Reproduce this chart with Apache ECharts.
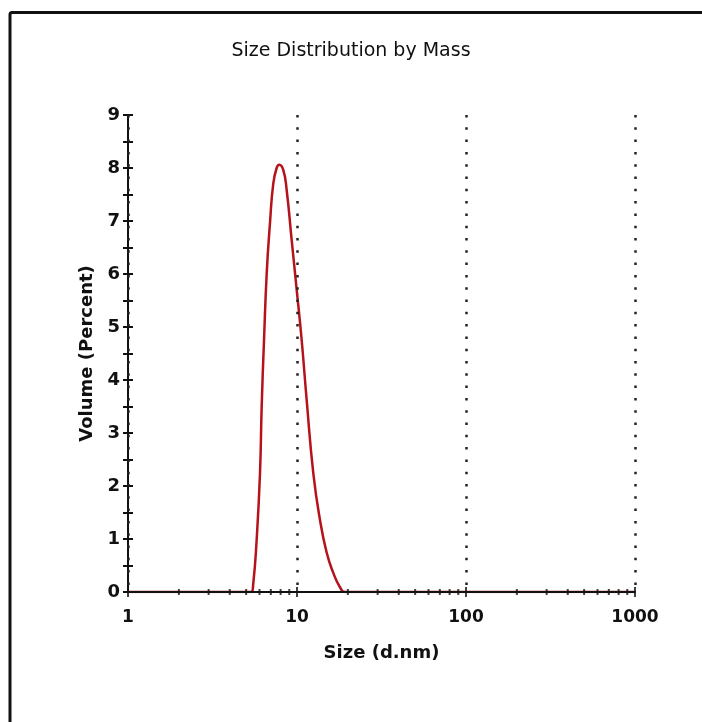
<!DOCTYPE html>
<html>
<head>
<meta charset="utf-8" />
<title>Size Distribution by Mass</title>
<script src="https://cdn.jsdelivr.net/npm/echarts@6/dist/echarts.min.js"></script>
<style>
  html, body { margin: 0; padding: 0; background: #fff; }
  #chart { width: 702px; height: 722px; }
</style>
</head>
<body>
<div id="chart"></div>
<script>
// size (d.nm) and volume (%)
var sizes = [1, 2, 3, 4, 5, 5.35, 5.51, 5.77, 6.04, 6.18, 6.38, 6.62, 6.92, 7.24, 7.58, 7.85,
  8.3, 8.69, 9.3, 9.96, 10.66, 11.41, 12.49, 13.68, 14.99, 16.4, 17.96, 19.2, 30, 100, 300, 1000];
var volumes = [0, 0, 0, 0, 0, 0, 0.16, 0.98, 2.24, 3.5, 4.75, 6.02, 6.96, 7.71, 8.0, 8.06,
  7.96, 7.58, 6.64, 5.7, 4.75, 3.62, 2.24, 1.36, 0.74, 0.36, 0.09, 0, 0, 0, 0, 0];
// x axis tick marks (log decades + minor 2..9)
var majorTicks = [1, 10, 100, 1000];
var minorTicks = [2, 3, 4, 5, 6, 7, 8, 9, 20, 30, 40, 50, 60, 70, 80, 90,
  200, 300, 400, 500, 600, 700, 800, 900];

var font = "DejaVu Sans";
var chart = echarts.init(document.getElementById("chart"));

var yBase = {
  type: "value",
  min: 0,
  max: 9,
  interval: 0.5,
  position: "left",
  offset: 0,
  splitLine: { show: false },
};

var options = {
  animation: false,
  backgroundColor: "#fff",
  title: {
    text: "Size Distribution by Mass",
    left: "center",
    top: 37,
    textStyle: { fontFamily: font, fontSize: 19, fontWeight: "normal", color: "#111" },
  },
  // outer frame
  graphic: [
    {
      type: "rect",
      shape: { x: 10, y: 12.5, width: 800, height: 800, r: 2 },
      style: { fill: "none", stroke: "#111", lineWidth: 3 },
      silent: true,
    },
  ],
  grid: { left: 128, right: 67, top: 115, bottom: 130 },
  xAxis: {
    type: "log",
    logBase: 10,
    min: 1,
    max: 1000,
    z: 3,
    name: "Size (d.nm)",
    nameLocation: "middle",
    nameGap: 52,
    nameTextStyle: { fontFamily: font, fontSize: 18, fontWeight: "bold", color: "#111" },
    axisLine: { lineStyle: { color: "#111", width: 2 } },
    axisTick: { show: false },
    axisLabel: {
      fontFamily: font,
      fontSize: 17,
      fontWeight: "bold",
      color: "#111",
      margin: 17,
      formatter: function (v) {
        return String(v);
      },
    },
    // dotted lines at the decades
    splitLine: { show: true, lineStyle: { color: "#222", width: 2.5, type: [2.5, 9.8] } },
  },
  yAxis: [
    Object.assign({}, yBase, {
      name: "Volume (Percent)",
      nameLocation: "middle",
      nameGap: 32,
      nameTextStyle: { fontFamily: font, fontSize: 18, fontWeight: "bold", color: "#111" },
      axisLine: { show: true, onZero: false, lineStyle: { color: "#111", width: 2 } },
      axisTick: { show: true, length: 5, lineStyle: { color: "#111", width: 2 } },
      axisLabel: {
        fontFamily: font,
        fontSize: 18,
        fontWeight: "bold",
        color: "#111",
        margin: 8,
        formatter: function (v) {
          return v % 1 === 0 ? String(v) : "";
        },
      },
    }),
    // second copy only for the inside half of the ticks
    Object.assign({}, yBase, {
      axisLine: { show: true, onZero: false, lineStyle: { color: "rgba(0,0,0,0)" } },
      axisTick: { show: true, inside: true, length: 5, lineStyle: { color: "#111", width: 2 } },
      axisLabel: { show: false },
    }),
  ],
  series: [
    {
      name: "Volume",
      type: "line",
      yAxisIndex: 0,
      symbol: "none",
      smooth: 0.5,
      z: 2,
      lineStyle: { color: "#b5121b", width: 2.5 },
      data: sizes.map(function (s, i) {
        return [s, volumes[i]];
      }),
    },
    {
      type: "scatter",
      silent: true,
      z: 4,
      symbol: "rect",
      symbolSize: [2, 10],
      itemStyle: { color: "#111" },
      data: majorTicks.map(function (t) {
        return [t, 0];
      }),
    },
    {
      type: "scatter",
      silent: true,
      z: 4,
      symbol: "rect",
      symbolSize: [2, 6],
      itemStyle: { color: "#111" },
      data: minorTicks.map(function (t) {
        return [t, 0];
      }),
    },
  ],
};
chart.setOption(options);
</script>
</body>
</html>
